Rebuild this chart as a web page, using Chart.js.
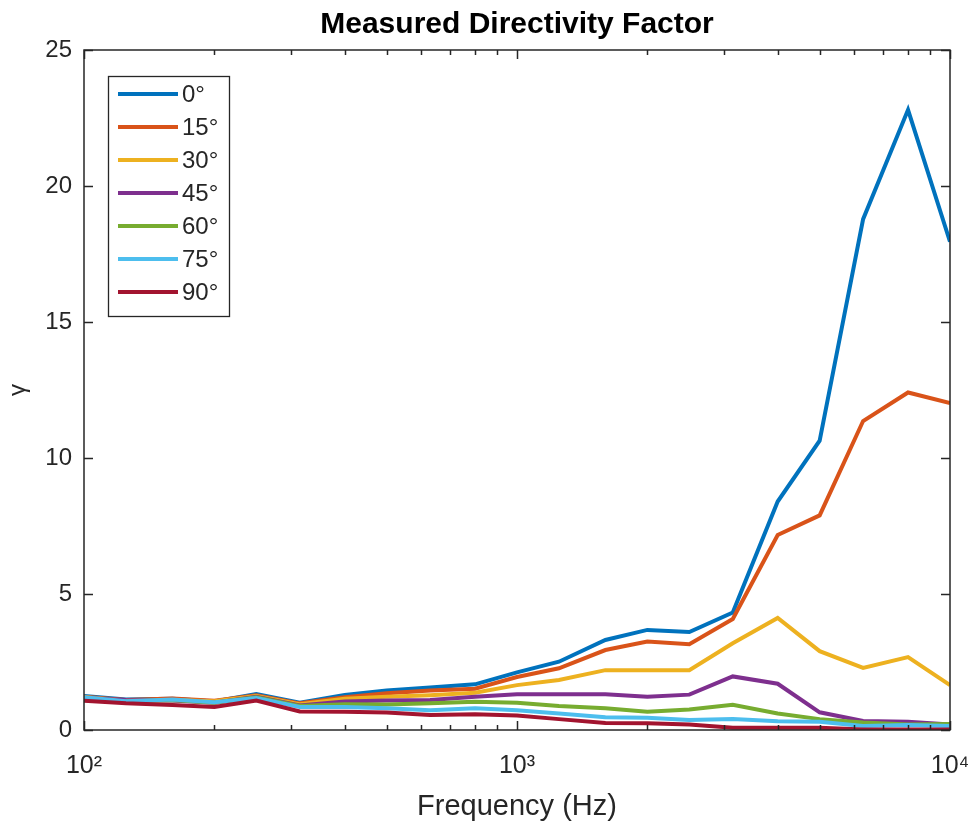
<!DOCTYPE html>
<html>
<head>
<meta charset="utf-8">
<title>Measured Directivity Factor</title>
<script src="https://cdn.jsdelivr.net/npm/chart.js@4.4.1/dist/chart.umd.min.js"></script>
<style>
  html, body { margin: 0; padding: 0; background: #ffffff; }
  #wrap { width: 972px; height: 827px; }
</style>
</head>
<body>
<div id="wrap"><canvas id="chart" width="972" height="827"></canvas></div>
<script>
// Third-octave band centre frequencies (Hz)
const frequencies = [100, 125, 160, 200, 250, 315, 400, 500, 630, 800, 1000,
                     1250, 1600, 2000, 2500, 3150, 4000, 5000, 6300, 8000, 10000];

// Directivity factor per measurement angle
const angleLabels = ['0°', '15°', '30°', '45°', '60°', '75°', '90°'];
const gamma0  = [1.25, 1.12, 1.15, 1.05, 1.32, 1.00, 1.29, 1.45, 1.56, 1.68, 2.12, 2.51, 3.31, 3.68, 3.60, 4.32, 8.40, 10.64, 18.78, 22.80, 17.95];
const gamma15 = [1.22, 1.10, 1.16, 1.08, 1.28, 0.98, 1.20, 1.35, 1.45, 1.52, 1.95, 2.27, 2.94, 3.25, 3.15, 4.08, 7.17, 7.89, 11.36, 12.41, 12.02];
const gamma30 = [1.20, 1.08, 1.10, 1.06, 1.25, 0.95, 1.15, 1.22, 1.28, 1.37, 1.65, 1.84, 2.20, 2.20, 2.20, 3.19, 4.12, 2.90, 2.28, 2.68, 1.65];
const gamma45 = [1.18, 1.10, 1.08, 1.00, 1.22, 0.90, 1.05, 1.08, 1.10, 1.22, 1.31, 1.31, 1.31, 1.22, 1.30, 1.97, 1.70, 0.65, 0.33, 0.30, 0.20];
const gamma60 = [1.15, 1.05, 1.10, 1.00, 1.20, 0.88, 0.95, 0.94, 0.98, 1.04, 1.00, 0.88, 0.80, 0.67, 0.75, 0.93, 0.61, 0.40, 0.28, 0.20, 0.22];
const gamma75 = [1.20, 1.06, 1.12, 1.02, 1.18, 0.85, 0.85, 0.80, 0.73, 0.80, 0.73, 0.61, 0.47, 0.45, 0.37, 0.40, 0.32, 0.30, 0.15, 0.18, 0.15];
const gamma90 = [1.08, 0.98, 0.92, 0.85, 1.08, 0.68, 0.67, 0.64, 0.55, 0.58, 0.53, 0.40, 0.26, 0.25, 0.20, 0.08, 0.08, 0.08, 0.02, 0.02, 0.02];

// Axis ticks
const xMajorTicks = [100, 1000, 10000];
const xMinorTicks = [200, 300, 400, 500, 600, 700, 800, 900,
                     2000, 3000, 4000, 5000, 6000, 7000, 8000, 9000];
const xTickLabels = ['10²', '10³', '10⁴'];
const yTicks = [0, 5, 10, 15, 20, 25];

const seriesValues = [gamma0, gamma15, gamma30, gamma45, gamma60, gamma75, gamma90];
const seriesColors = ['#0072BD', '#D95319', '#EDB120', '#7E2F8E', '#77AC30', '#4DBEEE', '#A2142F'];

const FONT = "'Liberation Sans', Arial, Helvetica, sans-serif";
const AXIS_COLOR = '#262626';
Chart.defaults.font.family = FONT;

const datasets = seriesValues.map((vals, i) => ({
  label: angleLabels[i],
  data: frequencies.map((f, j) => ({ x: f, y: vals[j] })),
  borderColor: seriesColors[i],
  backgroundColor: seriesColors[i],
  borderWidth: 4,
  pointRadius: 0,
  tension: 0,
  fill: false,
  order: seriesValues.length - i   // later angles drawn on top
}));

// Box around the axes with inward tick marks on all four sides
const axesBox = {
  id: 'axesBox',
  afterDatasetsDraw(chart) {
    const { ctx, chartArea: a, scales: { x, y } } = chart;
    ctx.save();
    ctx.strokeStyle = AXIS_COLOR;
    ctx.lineWidth = 1.5;
    ctx.beginPath();
    const tick = (px, len) => {
      ctx.moveTo(px, a.bottom); ctx.lineTo(px, a.bottom - len);
      ctx.moveTo(px, a.top);    ctx.lineTo(px, a.top + len);
    };
    xMajorTicks.forEach(v => tick(Math.round(x.getPixelForValue(v)) + 0.5, 9));
    xMinorTicks.forEach(v => tick(Math.round(x.getPixelForValue(v)) + 0.5, 5));
    yTicks.forEach(v => {
      const py = Math.round(y.getPixelForValue(v)) + 0.5;
      ctx.moveTo(a.left, py);  ctx.lineTo(a.left + 9, py);
      ctx.moveTo(a.right, py); ctx.lineTo(a.right - 9, py);
    });
    ctx.stroke();
    ctx.strokeRect(a.left, a.top, a.right - a.left, a.bottom - a.top);
    ctx.restore();
  }
};

// Boxed legend in the upper-left corner of the axes
const boxedLegend = {
  id: 'boxedLegend',
  afterDraw(chart) {
    const { ctx, chartArea: a } = chart;
    const left = a.left + 24, top = a.top + 26, w = 121, h = 240;
    const rowH = 33, firstRow = top + 18;
    ctx.save();
    ctx.fillStyle = '#ffffff';
    ctx.fillRect(left, top, w, h);
    ctx.strokeStyle = AXIS_COLOR;
    ctx.lineWidth = 1.3;
    ctx.strokeRect(left + 0.5, top + 0.5, w, h);
    ctx.font = '24px ' + FONT;
    ctx.textBaseline = 'middle';
    ctx.textAlign = 'left';
    chart.data.datasets.forEach((ds, i) => {
      const yy = firstRow + i * rowH;
      ctx.strokeStyle = ds.borderColor;
      ctx.lineWidth = 4;
      ctx.beginPath();
      ctx.moveTo(left + 10, yy);
      ctx.lineTo(left + 70, yy);
      ctx.stroke();
      ctx.fillStyle = AXIS_COLOR;
      ctx.fillText(ds.label, left + 74, yy + 1);
    });
    ctx.restore();
  }
};

new Chart(document.getElementById('chart'), {
  type: 'line',
  data: { datasets },
  plugins: [axesBox, boxedLegend],
  options: {
    responsive: false,
    animation: false,
    devicePixelRatio: 1,
    layout: { padding: { left: 0, right: 22, top: 0, bottom: 0 } },
    plugins: {
      legend: { display: false },
      tooltip: { enabled: false },
      title: {
        display: true,
        fullSize: false,   // centre the title over the plot area
        text: 'Measured Directivity Factor',
        color: '#000000',
        font: { family: FONT, size: 30, weight: 'bold' },
        padding: { top: 7, bottom: 7 }
      }
    },
    scales: {
      x: {
        type: 'logarithmic',
        min: 100,
        max: 10000,
        afterBuildTicks: s => { s.ticks = xMajorTicks.map(v => ({ value: v, major: true })); },
        afterFit: s => { s.height = 97; s.paddingLeft = 0; s.paddingRight = 0; },
        ticks: {
          autoSkip: false,
          maxRotation: 0,
          padding: 21,
          color: AXIS_COLOR,
          font: { family: FONT, size: 25 },
          callback: v => xTickLabels[xMajorTicks.indexOf(v)]
        },
        grid: { display: false, drawTicks: false },
        border: { display: false },
        title: {
          display: true,
          text: 'Frequency (Hz)',
          color: AXIS_COLOR,
          font: { family: FONT, size: 29 },
          padding: { top: 0, bottom: 3 }
        }
      },
      y: {
        min: 0,
        max: 25,
        afterBuildTicks: s => { s.ticks = yTicks.map(v => ({ value: v })); },
        afterFit: s => { s.width = 84; },
        ticks: {
          padding: 12,
          color: AXIS_COLOR,
          font: { family: FONT, size: 24 }
        },
        grid: { display: false, drawTicks: false },
        border: { display: false },
        title: {
          display: true,
          text: 'γ',
          color: AXIS_COLOR,
          font: { family: FONT, size: 24 },
          padding: { top: 4, bottom: 0 }
        }
      }
    }
  }
});
</script>
</body>
</html>
